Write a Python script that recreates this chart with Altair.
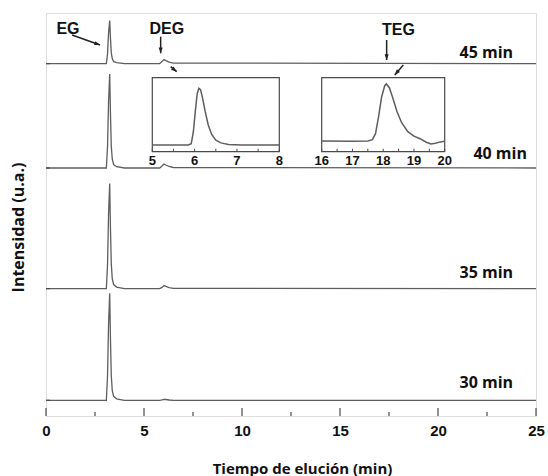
import math
import altair as alt
import pandas as pd

# ---------------- data ----------------
run_labels = ["30 min", "35 min", "40 min", "45 min"]
run_offsets = [15.7, 127.4, 248.0, 352.4]

main_time = [0, 3.08, 3.14, 3.19, 3.25, 3.29, 3.33, 3.38, 3.45, 3.6, 4.0,
             5.8, 5.92, 6.02, 6.12, 6.28, 6.5, 25]
int_30 = [0, 0, 25, 75, 107, 60, 25, 10, 4, 1.5, 0, 0, 0.4, 1.0, 0.8, 0.3, 0, 0]
int_35 = [0, 0, 24, 73, 105, 59, 25, 10, 4, 1.5, 0, 0, 1.2, 3.0, 2.2, 1.0, 0.3, 0]
int_40 = [0, 0, 22, 65, 94, 53, 22, 9, 3.5, 1.3, 0, 0, 2.0, 4.0, 3.0, 1.5, 0.5, 0]
int_45 = [0, 0, 10, 30, 43, 25, 11, 5, 2, 1.0, 0, 0, 2.0, 4.0, 3.0, 1.5, 0.5, 0]

inset1_time = [5.0, 5.85, 5.92, 5.97, 6.02, 6.06, 6.10, 6.14, 6.19, 6.25,
               6.32, 6.40, 6.50, 6.62, 6.80, 7.10, 8.0]
inset1_signal = [6.7, 6.7, 8.0, 20.0, 42.0, 58.0, 63.4, 62.0, 53.0, 40.0,
                 27.0, 17.5, 11.5, 8.8, 7.3, 6.8, 6.7]

inset2_time = [16.0, 17.0, 17.5, 17.65, 17.75, 17.85, 17.95, 18.05, 18.1,
               18.2, 18.3, 18.45, 18.6, 18.8, 19.0, 19.2, 19.4, 19.55,
               19.7, 19.85, 20.0]
inset2_signal = [10.7, 10.5, 10.7, 12.0, 18.0, 35.0, 55.0, 66.0, 67.7,
                 64.0, 55.0, 40.0, 29.0, 20.0, 15.5, 13.0, 9.5, 7.8,
                 8.5, 9.8, 10.5]

main_major_ticks = [0, 5, 10, 15, 20, 25]
main_minor_ticks = [2.5, 7.5, 12.5, 17.5, 22.5]
inset1_xlim = [5, 8]
inset1_major = [5, 6, 7, 8]
inset1_minor = [5.5, 6.5, 7.5]
inset2_xlim = [16, 20]
inset2_major = [16, 17, 18, 19, 20]
inset2_minor = [16.5, 17.5, 18.5, 19.5]
inset_ylim = [0, 74]

peak_names = ["EG", "DEG", "TEG"]

# ---------------- layout / style ----------------
W, H = 490, 403
PXU = W / 25.0
LINE = "#5e5e5e"
FRAME = "#4a4a4a"
TXT = "#111111"
FONT = "Open Sans"
NFONT = "Liberation Sans"

xs = alt.Scale(domain=[0, 25], nice=False, zero=False)
ys = alt.Scale(domain=[0, H], nice=False, zero=False)

intens = [int_30, int_35, int_40, int_45]
rows = []
for lab, off, vals in zip(run_labels, run_offsets, intens):
    for t, v in zip(main_time, vals):
        rows.append({"run": lab, "t": t, "y": off + v})
df = pd.DataFrame(rows)

traces = alt.Chart(df).mark_line(color=LINE, strokeWidth=1.3).encode(
    x=alt.X("t:Q", scale=xs,
            axis=alt.Axis(values=main_major_ticks, ticks=False, domain=False, grid=False,
                          labelFlush=False, labelFont=NFONT, labelFontSize=15,
                          labelFontWeight="bold", labelColor=TXT, labelPadding=7,
                          title="Tiempo de elución (min)", titleFont=FONT,
                          titleFontSize=15, titleFontWeight="bold", titleColor=TXT,
                          titleX=256, titleY=52, titleBaseline="middle",
                          titleAlign="center")),
    y=alt.Y("y:Q", scale=ys,
            axis=alt.Axis(labels=False, ticks=False, domain=False, grid=False,
                          title="Intensidad (u.a.)", titleFont=FONT, titleFontSize=16,
                          titleFontWeight="bold", titleColor=TXT, titleAngle=270,
                          titleX=-28, titleY=214, titleBaseline="middle",
                          titleAlign="center")),
    detail="run:N",
)

# inward ticks on main x axis
maj = alt.Chart(pd.DataFrame({"t": main_major_ticks})).mark_rule(
    color=FRAME, strokeWidth=1.2).encode(
    x=alt.X("t:Q", scale=xs, axis=None), y=alt.value(H), y2=alt.value(H - 8))
mnr = alt.Chart(pd.DataFrame({"t": main_minor_ticks})).mark_rule(
    color=FRAME, strokeWidth=1.2).encode(
    x=alt.X("t:Q", scale=xs, axis=None), y=alt.value(H), y2=alt.value(H - 4))
yt = alt.Chart(pd.DataFrame({"y": run_offsets})).mark_rule(
    color=FRAME, strokeWidth=1.2).encode(
    y=alt.Y("y:Q", scale=ys, axis=None), x=alt.value(0), x2=alt.value(4))

# run labels (right aligned)
lab_df = pd.DataFrame({
    "run": run_labels,
    "t": [23.83, 23.83, 24.54, 23.83],
    "y": [33.2, 143.0, 262.3, 363.5],
})
labels = alt.Chart(lab_df).mark_text(
    align="right", baseline="middle", font=FONT, fontSize=16,
    fontWeight="bold", color=TXT).encode(
    x=alt.X("t:Q", scale=xs, axis=None), y=alt.Y("y:Q", scale=ys, axis=None),
    text="run:N")

# peak name annotations
pk_df = pd.DataFrame({"name": peak_names, "t": [1.12, 6.16, 17.98],
                      "y": [387.0, 387.0, 385.7]})
pk_text = alt.Chart(pk_df).mark_text(
    align="center", baseline="middle", font=NFONT, fontSize=16,
    fontWeight="bold", color=TXT).encode(
    x=alt.X("t:Q", scale=xs, axis=None), y=alt.Y("y:Q", scale=ys, axis=None),
    text="name:N")

arr = [
    (1.33, 381.0, 2.76, 371.0),
    (5.85, 379.3, 5.85, 362.7),
    (6.36, 349.3, 6.67, 344.3),
    (17.38, 376.0, 17.38, 356.0),
    (18.23, 351.0, 17.79, 341.0),
]
arr_df = pd.DataFrame(arr, columns=["x", "y", "x2", "y2"])
arr_df["ang"] = [
    (math.degrees(math.atan2((b2 - b1) * PXU, (c2 - c1))) + 360) % 360
    for b1, c1, b2, c2 in zip(arr_df.x, arr_df.y, arr_df.x2, arr_df.y2)
]
shafts = alt.Chart(arr_df).mark_rule(color="#222", strokeWidth=1.5).encode(
    x=alt.X("x:Q", scale=xs, axis=None), y=alt.Y("y:Q", scale=ys, axis=None),
    x2="x2:Q", y2="y2:Q")
heads = alt.Chart(arr_df).mark_point(
    shape="M0,0L-0.65,1.8L0.65,1.8Z", filled=True, color="#222", opacity=1,
    size=40).encode(
    x=alt.X("x2:Q", scale=xs, axis=None), y=alt.Y("y2:Q", scale=ys, axis=None),
    angle=alt.Angle("ang:Q", scale=None))


def inset(times, sig, xlim, major, minor, xrange):
    sx = alt.Scale(domain=xlim, range=xrange, nice=False, zero=False)
    sy = alt.Scale(domain=inset_ylim, range=[138.7, 64.7], nice=False, zero=False)
    d = pd.DataFrame({"t": times, "v": sig})
    line = alt.Chart(d).mark_line(color=LINE, strokeWidth=1.5).encode(
        x=alt.X("t:Q", scale=sx, axis=None), y=alt.Y("v:Q", scale=sy, axis=None))
    fr = pd.DataFrame({"a": [xlim[0]], "b": [xlim[1]],
                       "c": [inset_ylim[0]], "d": [inset_ylim[1]]})
    frame = alt.Chart(fr).mark_rect(fillOpacity=0, stroke=FRAME,
                                    strokeWidth=1.2).encode(
        x=alt.X("a:Q", scale=sx, axis=None), x2="b:Q",
        y=alt.Y("c:Q", scale=sy, axis=None), y2="d:Q")
    tk = pd.DataFrame({"t": list(major) + list(minor)})
    ticks = alt.Chart(tk).mark_rule(color=FRAME, strokeWidth=1).encode(
        x=alt.X("t:Q", scale=sx, axis=None), y=alt.value(138.7),
        y2=alt.value(135.7))
    tl = alt.Chart(pd.DataFrame({"t": major})).mark_text(
        align="center", baseline="middle", font=NFONT, fontSize=13,
        fontWeight="bold", color=TXT).encode(
        x=alt.X("t:Q", scale=sx, axis=None), y=alt.value(147.5),
        text=alt.Text("t:Q", format="d"))
    return [frame, line, ticks, tl]


in1 = inset(inset1_time, inset1_signal, inset1_xlim, inset1_major, inset1_minor,
            [106.3, 233.3])
in2 = inset(inset2_time, inset2_signal, inset2_xlim, inset2_major, inset2_minor,
            [275.7, 398.7])

chart = alt.layer(
    traces, maj, mnr, yt, labels, pk_text, shafts, heads, *in1, *in2
).resolve_scale(x="independent", y="independent").properties(
    width=W, height=H,
    padding={"left": 46, "top": 13, "right": 12, "bottom": 60},
    autosize=alt.AutoSizeParams(type="none"),
    background="white",
).configure_view(stroke=FRAME, strokeWidth=1.5).configure(font=FONT)

chart.save("out.html", embed_options={"renderer": "svg", "actions": False})
